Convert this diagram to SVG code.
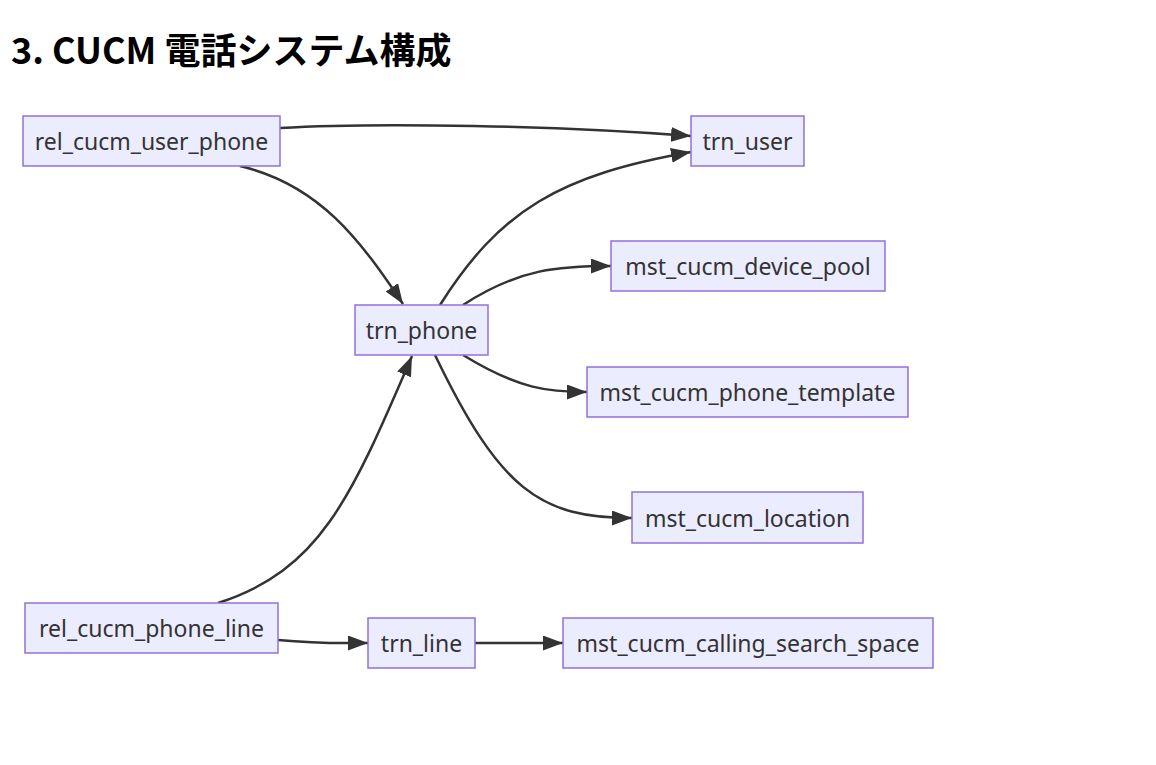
<svg xmlns="http://www.w3.org/2000/svg" width="1156" height="765" viewBox="0 0 1156 765">
<style>
.node rect{fill:#ECECFF;stroke:#9370DB;stroke-width:1.5}
.node text{font-family:"Noto Sans","Open Sans",sans-serif;font-size:23px;fill:#333;text-anchor:middle;dominant-baseline:central}
.edge{fill:none;stroke:#333;stroke-width:2.5}
.title{font-family:"Noto Sans CJK JP","Noto Sans",sans-serif;font-weight:bold;font-size:36px;fill:#000}
</style>
<defs>
<marker id="a" viewBox="0 0 20 15" refX="20" refY="7.5" markerWidth="20" markerHeight="15" markerUnits="userSpaceOnUse" orient="auto">
<path d="M0,0 L20,7.5 L0,15 z" fill="#333"/>
</marker>
</defs>
<rect width="1156" height="765" fill="#fff"/>
<text class="title" x="11" y="64">3. CUCM 電話システム構成</text>
<g id="connectors">
<path class="edge" marker-end="url(#a)" d="M280,128 C380,122 560,126 691,136"/>
<path class="edge" marker-end="url(#a)" d="M240,166 C320,185 360,240 403,304"/>
<path class="edge" marker-end="url(#a)" d="M440,305 C500,210 560,175 691,152"/>
<path class="edge" marker-end="url(#a)" d="M463,305 C520,268 560,266 611,266"/>
<path class="edge" marker-end="url(#a)" d="M463,355 C520,390 550,392 587,392"/>
<path class="edge" marker-end="url(#a)" d="M435,355 C500,490 540,518 632,518"/>
<path class="edge" marker-end="url(#a)" d="M218,603 C320,570 350,500 412,356"/>
<path class="edge" marker-end="url(#a)" d="M278,640 C320,644 340,643 368,643"/>
<path class="edge" marker-end="url(#a)" d="M475,643 L563,643"/>
</g>
<g id="rel_cucm_user_phone" class="node"><rect x="23" y="116" width="257" height="50"/><text x="151.5" y="141">rel_cucm_user_phone</text></g>
<g id="trn_user" class="node"><rect x="691" y="116" width="113" height="50"/><text x="747.5" y="141">trn_user</text></g>
<g id="trn_phone" class="node"><rect x="355" y="305" width="133" height="50"/><text x="421.5" y="330">trn_phone</text></g>
<g id="mst_cucm_device_pool" class="node"><rect x="611" y="241" width="274" height="50"/><text x="748" y="266">mst_cucm_device_pool</text></g>
<g id="mst_cucm_phone_template" class="node"><rect x="587" y="367" width="321" height="50"/><text x="747.5" y="392">mst_cucm_phone_template</text></g>
<g id="mst_cucm_location" class="node"><rect x="632" y="492" width="231" height="51"/><text x="747.5" y="517.5">mst_cucm_location</text></g>
<g id="rel_cucm_phone_line" class="node"><rect x="25" y="603" width="253" height="50"/><text x="151.5" y="628">rel_cucm_phone_line</text></g>
<g id="trn_line" class="node"><rect x="368" y="618" width="107" height="50"/><text x="421.5" y="643">trn_line</text></g>
<g id="mst_cucm_calling_search_space" class="node"><rect x="563" y="618" width="370" height="50"/><text x="748" y="643">mst_cucm_calling_search_space</text></g>
</svg>
